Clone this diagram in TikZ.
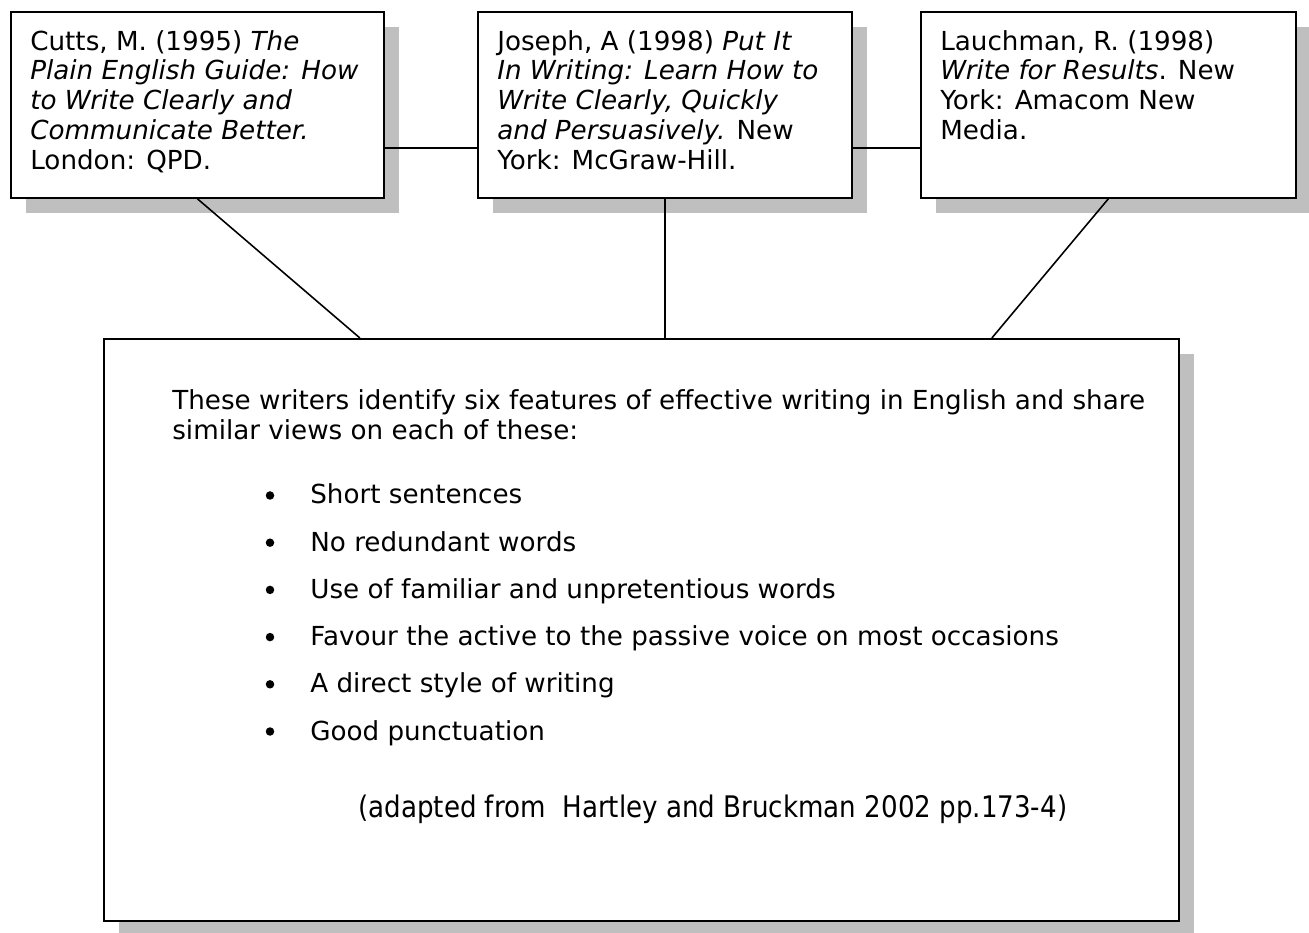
\documentclass[tikz,border=0pt]{standalone}
\usepackage{fontspec}
\setmainfont{DejaVu Sans}
\newfontfamily\capfont[FakeStretch=0.88]{DejaVu Sans}
\usepackage{tikz}
\usetikzlibrary{shadows,positioning}

\begin{document}
\begin{tikzpicture}[
    every node/.style={font=\fontsize{14.9}{16.9}\selectfont},
    bx/.style={rectangle, draw, line width=1pt, fill=white, anchor=north west,
               minimum height=3.72cm, inner sep=0pt,
               drop shadow={shadow xshift=0.31cm, shadow yshift=-0.31cm,
                            fill=black!25, opacity=1}},
    tx/.style={anchor=north west, align=left, inner sep=0pt},
    ln/.style={line width=0.9pt},
  ]
  \useasboundingbox (0,0) rectangle (26.18,-18.66);
  % reference boxes
  \node[bx, minimum width=7.46cm] (cutts) at (0.20, -0.22) {};
  \node[bx, minimum width=7.48cm] (joseph) at (9.54, -0.22) {};
  \node[bx, minimum width=7.50cm] (lauch) at (18.40, -0.22) {};
  \node[bx, minimum width=21.5cm, minimum height=11.64cm,
        drop shadow={shadow xshift=0.31cm, shadow yshift=-0.46cm,
                     fill=black!25, opacity=1}] (main) at (2.06, -6.76) {};
  \node[tx] (cuttsT) at (0.60, -0.60) {Cutts, M. (1995) \textit{The}\\
    \textit{Plain English Guide: How}\\ \textit{to Write Clearly and}\\
    \textit{Communicate Better.}\\ London: QPD.};
  \node[tx] (josephT) at (9.94, -0.60) {Joseph, A (1998) \textit{Put It}\\
    \textit{In Writing: Learn How to}\\ \textit{Write Clearly, Quickly}\\
    \textit{and Persuasively.} New\\ York: McGraw-Hill.};
  \node[tx] (lauchT) at (18.80, -0.60) {Lauchman, R. (1998)\\
    \textit{Write for Results}. New\\ York: Amacom New\\ Media.};
  % summary
  \node[tx, font=\fontsize{14.9}{17.3}\selectfont] (intro) at (3.44, -7.78)
    {These writers identify six features of effective writing in English and share\\
     similar views on each of these:};
  \foreach \t [count=\i from 0] in {Short sentences, No redundant words,
      Use of familiar and unpretentious words,
      Favour the active to the passive voice on most occasions,
      A direct style of writing, Good punctuation} {
    \node[circle, fill, inner sep=0pt, minimum size=0.17cm] (dot\i)
      at (5.40, -9.91-0.944*\i) {};
    \node[anchor=base west, inner sep=0pt] (item\i) at (6.20, -10.08-0.944*\i) {\t};
  }
  \node[anchor=base west, inner sep=0pt, font=\capfont\fontsize{16.9}{18}\selectfont]
    (src) at (7.16, -16.34) {(adapted from\ \ Hartley and Bruckman 2002 pp.173-4)};
  % connectors
  \draw[ln] ([yshift=-2.74cm]cutts.north east) -- ([yshift=-2.74cm]joseph.north west);
  \draw[ln] ([yshift=-2.74cm]joseph.north east) -- ([yshift=-2.74cm]lauch.north west);
  \draw[ln] (cutts.south) -- ([xshift=-5.63cm]main.north);
  \draw[ln] (joseph.south) -- (joseph.south |- main.north);
  \draw[ln] (lauch.south) -- ([xshift=7.01cm]main.north);
\end{tikzpicture}
\end{document}
